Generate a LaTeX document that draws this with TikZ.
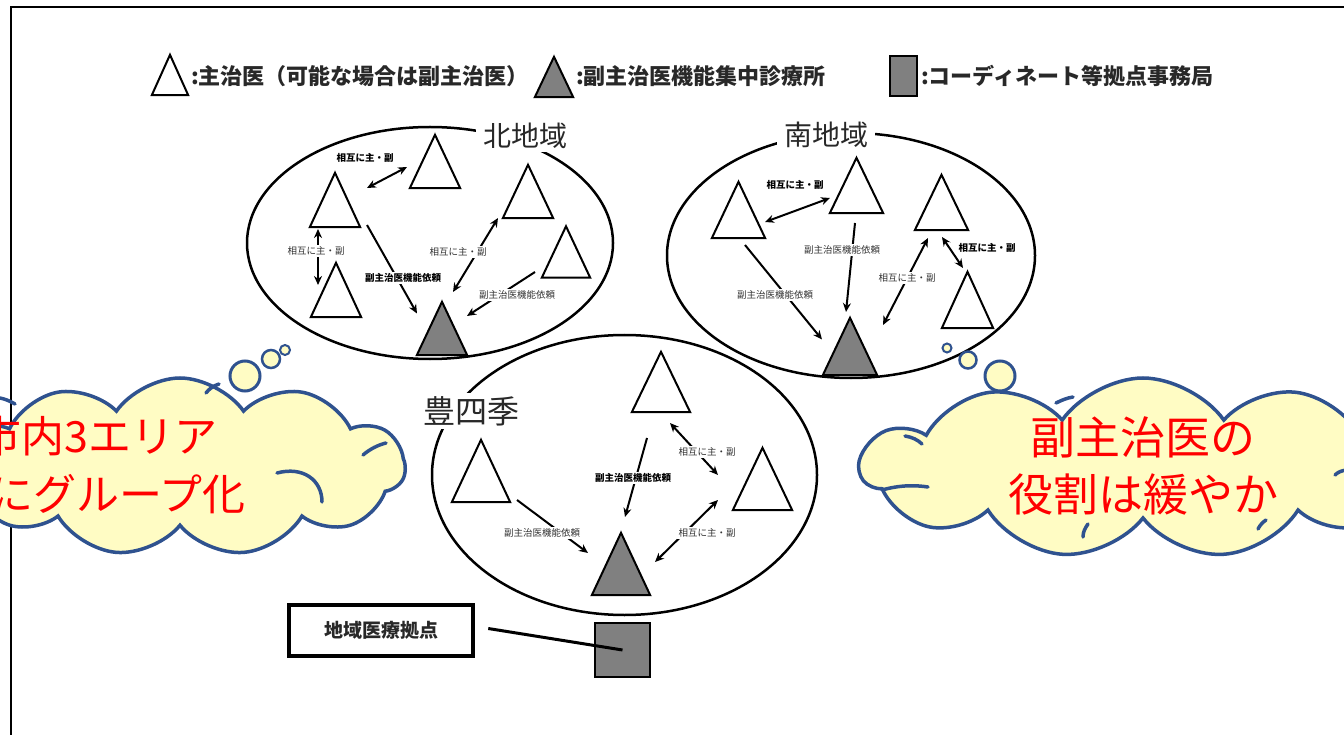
\documentclass[tikz,border=0pt]{standalone}
\usepackage{fontspec}
\newfontfamily\jp{Noto Sans CJK JP}
\usetikzlibrary{shapes.symbols,shapes.geometric,arrows.meta,calc}
\definecolor{cloudfill}{RGB}{255,252,196}
\definecolor{cloudline}{RGB}{47,82,143}
\definecolor{trigray}{RGB}{128,128,128}
\definecolor{txtdark}{RGB}{40,40,40}
\tikzset{
  triline/.style={draw=black,line width=2pt,line join=miter},
  region/.style={ellipse,draw=black,line width=2.5pt,inner sep=0pt},
  rlab/.style={font=\jp\fontsize{28}{30}\selectfont,fill=white,text=txtdark,inner xsep=7pt,inner ysep=3pt},
  lab/.style={font=\jp\fontsize{9.5}{10}\selectfont,fill=white,inner sep=1.5pt,text=black!80},
  labb/.style={lab,font=\jp\bfseries\fontsize{9.5}{10}\selectfont,text=black},
  arr/.style={line width=2pt,-{Stealth[length=9pt,width=8pt]}},
  darr/.style={line width=2pt,{Stealth[length=9pt,width=8pt]}-{Stealth[length=9pt,width=8pt]}},
  legtext/.style={font=\jp\bfseries\fontsize{22}{24}\selectfont,text=txtdark,anchor=west,inner sep=0pt},
  bub/.style={circle,draw=cloudline,fill=cloudfill,line width=3pt,inner sep=0pt},
  cloudbox/.style={cloud,draw=cloudline,fill=cloudfill,line width=3.5pt,cloud puffs=11,cloud puff arc=110,cloud ignores aspect,inner sep=0pt},
  curl/.style={draw=cloudline,line width=3.5pt,line cap=round},
  bubtext/.style={text=red,inner sep=0pt}
}
\newcommand\tri[6]{%
  \node[draw=none,inner sep=0pt,minimum width=#4pt,minimum height=#5pt] (#1) at (#2,#3) {};
  \draw[triline,fill=#6] (#1.north) -- (#1.south west) -- (#1.south east) -- cycle;}
\begin{document}
\begin{tikzpicture}[x=1pt,y=-1pt]
\clip (0,0) rectangle (1344,735);
\fill[white] (0,0) rectangle (1344,735);
% frame
\draw[line width=2pt] (11,740) -- (11,7) -- (1350,7);

% legend
\tri{LT}{170}{75}{36}{40}{white}
\node[legtext] (LT1) at (191,76) {:主治医（可能な場合は副主治医）};
\tri{LG}{554}{77}{38}{40}{trigray}
\node[legtext] (LT2) at (576,76) {:副主治医機能集中診療所};
\node[draw=black,fill=trigray,line width=1.5pt,minimum width=27pt,minimum height=40pt,inner sep=0pt] (LS) at (903.5,76) {};
\node[legtext] (LT3) at (921,76) {:コーディネート等拠点事務局};

% regions
\node[region,minimum width=366pt,minimum height=232pt] (north) at (430,243) {};
\node[region,minimum width=368pt,minimum height=245pt] (south) at (851,255.5) {};
\node[region,minimum width=385pt,minimum height=280pt] (toyo) at (624.5,475) {};
\node[rlab] (northL) at (525,136) {北地域};
\node[rlab] (southL) at (826,135) {南地域};
\node[rlab,font=\jp\fontsize{32}{34}\selectfont] (toyoL) at (471,411) {豊四季};

% north triangles
\tri{T1}{435}{161.5}{50}{53}{white}
\tri{T2}{335}{200}{50}{54}{white}
\tri{T3}{336}{290}{50}{54}{white}
\tri{T4}{528}{191.5}{50}{53}{white}
\tri{T5}{566}{252}{48}{51}{white}
\tri{NG}{442}{328.5}{50}{53}{trigray}
% north arrows
\draw[darr] ($(T2)+(32,-12)$) -- ($(T1)+(-28,5.5)$);
\draw[darr] ($(T2)+(-17,29)$) -- ($(T3)+(-18,-5)$);
\draw[arr] ($(T2)+(32,25)$) -- ($(NG)+(-25,-15)$);
\draw[darr] ($(NG)+(11,-36.5)$) -- ($(T4)+(-30,26.5)$);
\draw[arr] ($(T5)+(-31,20)$) -- ($(NG)+(25,-12.5)$);
\node[labb] (n1) at (365,158) {相互に主・副};
\node[lab] (n2) at (316,251) {相互に主・副};
\node[labb] (n3) at (403,278) {副主治医機能依頼};
\node[lab] (n4) at (458,252) {相互に主・副};
\node[lab] (n5) at (517,295) {副主治医機能依頼};

% south triangles
\tri{S1}{738.5}{210}{53}{56}{white}
\tri{S2}{856.5}{185.5}{53}{55}{white}
\tri{S3}{941.5}{202.5}{53}{55}{white}
\tri{S4}{967.5}{300}{51}{56}{white}
\tri{SG}{850}{346.5}{54}{57}{trigray}
\draw[darr] ($(S1)+(26.5,12)$) -- ($(S2)+(-26.5,12.5)$);
\draw[arr] ($(S2)+(-1.5,37.5)$) -- ($(SG)+(-4,-34.5)$);
\draw[arr] ($(S1)+(6.5,35)$) -- ($(SG)+(-28,-7)$);
\draw[darr] ($(SG)+(33,-21.5)$) -- ($(S3)+(-13.5,35.5)$);
\draw[darr] ($(S3)+(0.5,34.5)$) -- ($(S4)+(-4.5,-32)$);
\node[labb] (s1) at (795,185) {相互に主・副};
\node[lab] (s2) at (842,250) {副主治医機能依頼};
\node[lab] (s3) at (775,295) {副主治医機能依頼};
\node[lab] (s4) at (907,278) {相互に主・副};
\node[labb] (s5) at (987,248) {相互に主・副};

% toyoshiki triangles
\tri{Y1}{661}{382}{58}{60}{white}
\tri{Y2}{481}{471}{58}{62}{white}
\tri{Y3}{762.5}{479}{59}{62}{white}
\tri{YG}{621}{564}{58}{62}{trigray}
\draw[arr] ($(Y1)+(-14,56)$) -- ($(YG)+(4,-47)$);
\draw[arr] ($(Y2)+(36,29)$) -- ($(YG)+(-33,-11)$);
\draw[darr] ($(Y1)+(9,41)$) -- ($(Y3)+(-44.5,-4)$);
\draw[darr] ($(YG)+(34,-2)$) -- ($(Y3)+(-44.5,21)$);
\node[labb] (y1) at (633,478) {副主治医機能依頼};
\node[lab] (y2) at (542,533) {副主治医機能依頼};
\node[lab] (y3) at (707,452) {相互に主・副};
\node[lab] (y4) at (707,533) {相互に主・副};

% base
\node[draw=black,line width=4.5pt,minimum width=184pt,minimum height=51pt,inner sep=0pt,font=\jp\bfseries\fontsize{19}{20}\selectfont,text=txtdark] (base) at (381,630.5) {地域医療拠点};
\node[draw=black,fill=trigray,line width=1.5pt,minimum width=55pt,minimum height=54pt,inner sep=0pt] (sq) at (622.5,650) {};
\draw[line width=3pt] ($(base.east)+(13,-2)$) -- (sq.center);

% clouds
\node[cloudbox,minimum width=450pt,minimum height=178pt] (lcloud) at (180,467) {};
\draw[curl] (277,473) .. controls (303,466) and (322,480) .. (322,502);
\draw[curl] (363,455) .. controls (370,449) and (378,445) .. (386,443);
\draw[curl] (206,393) .. controls (209,389) and (213,386) .. (219,384);
\draw[curl] (0,398) .. controls (5,399) and (10,401) .. (15,404);
\node[bubtext,font=\jp\fontsize{43}{58}\selectfont,align=left,anchor=west] (ltext) at (-22,465) {市内3エリア\\\hspace*{12pt}にグループ化};
\node[bub,minimum size=30pt] (lb1) at (245,376) {};
\node[bub,minimum size=18pt,line width=2.5pt] (lb2) at (271,359) {};
\node[bub,minimum size=10pt,line width=2pt] (lb3) at (285,350) {};

\node[cloudbox,minimum width=565pt,minimum height=180pt] (rcloud) at (1143,468) {};
\draw[curl] (882,490) .. controls (900,485) and (915,485) .. (928,487);
\draw[curl] (905,436) .. controls (912,437) and (918,440) .. (922,444);
\draw[curl] (1056,403) .. controls (1062,400) and (1067,398) .. (1073,397);
\draw[curl] (1083,537) .. controls (1083,532) and (1085,528) .. (1088,524);
\draw[curl] (1258,529) .. controls (1260,525) and (1263,522) .. (1266,520);
\draw[curl] (1335,475) .. controls (1338,472) and (1341,471) .. (1346,470);
\node[bubtext,font=\jp\fontsize{45}{57}\selectfont,align=center] (rtext) at (1143,466) {副主治医の\\役割は緩やか};
\node[bub,minimum size=9pt,line width=2pt] (rb1) at (947,348) {};
\node[bub,minimum size=17pt,line width=2.5pt] (rb2) at (968,360) {};
\node[bub,minimum size=30pt] (rb3) at (1000,376) {};
\end{tikzpicture}
\end{document}
